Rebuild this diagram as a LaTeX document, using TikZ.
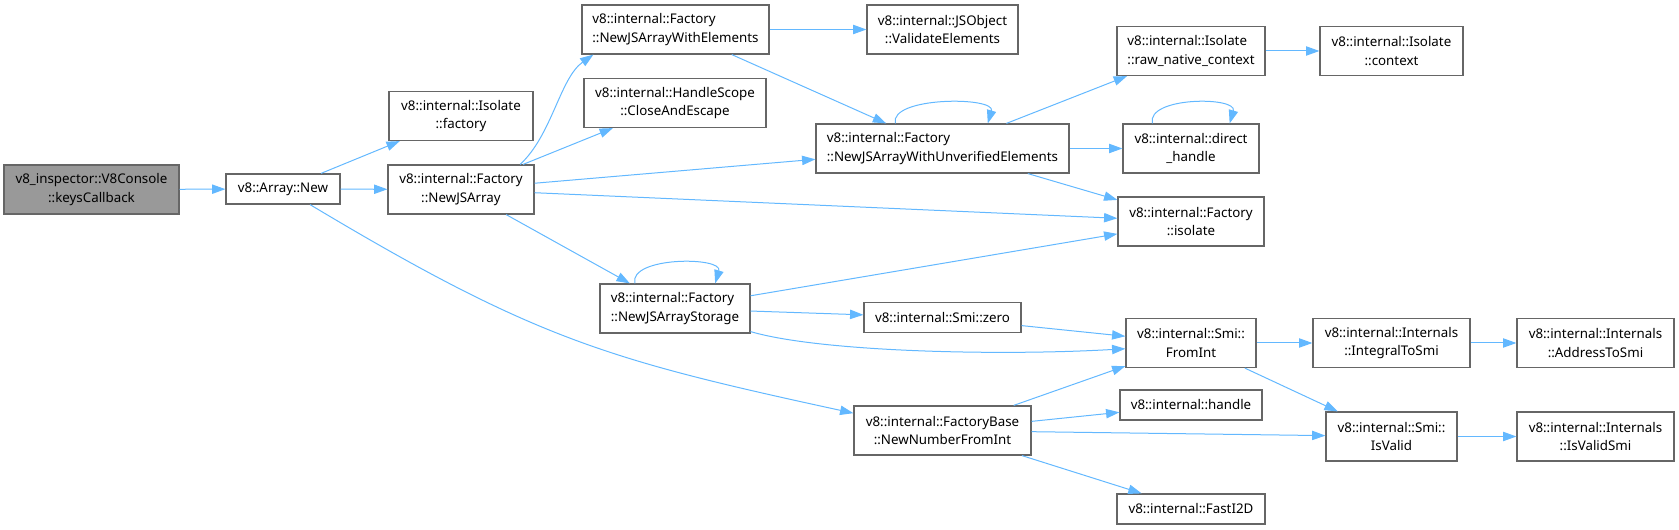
\documentclass[tikz,border=0pt]{standalone}
\usepackage{fontspec}
\setmainfont{Noto Sans}
\usetikzlibrary{arrows.meta}

\definecolor{edgeblue}{HTML}{63B8FF}
\tikzset{
  fn/.style={draw=black!60, line width=0.9pt, fill=white, inner sep=0pt, align=center,
    minimum height=36.75pt, font=\fontsize{10}{13.75}\selectfont},
  fnone/.style={fn, minimum height=22.5pt},
  edge/.style={draw=edgeblue, line width=0.75pt, -{Triangle[length=10pt, width=7pt]}},
}

\begin{document}
\begin{tikzpicture}[x=0.75pt,y=-0.75pt]
\useasboundingbox (0,0) rectangle (1679,530);
% call graph nodes
\node[fn, fill=black!40, minimum width=131.25pt] (kcb) at (91.5,189.5) {v8\_inspector::V8Console\\::keysCallback};
\node[fnone, minimum width=85.5pt] (anew) at (283,189) {v8::Array::New};
\node[fn, minimum width=109.5pt] (njs) at (461,189.5) {v8::internal::Factory\\::NewJSArray};
\node[fn, minimum width=108pt] (nfac) at (461,116) {v8::internal::Isolate\\::factory};
\node[fn, align=left, minimum width=140.25pt] (nwe) at (675.5,29.5) {v8::internal::Factory\\::NewJSArrayWithElements};
\node[fn, minimum width=136.5pt] (ncae) at (675,103) {v8::internal::HandleScope\\::CloseAndEscape};
\node[fn, align=left, minimum width=112.5pt] (nst) at (675,308.5) {v8::internal::Factory\\::NewJSArrayStorage};
\node[fn, minimum width=113.25pt] (nval) at (942.5,29.5) {v8::internal::JSObject\\::ValidateElements};
\node[fn, align=left, minimum width=189.75pt] (nuv) at (942.5,148.5) {v8::internal::Factory\\::NewJSArrayWithUnverifiedElements};
\node[fnone, minimum width=117.75pt] (nzero) at (942.5,317.5) {v8::internal::Smi::zero};
\node[fn, minimum width=132.75pt] (nnum) at (942.5,430.5) {v8::internal::FactoryBase\\::NewNumberFromInt};
\node[fn, align=left, minimum width=111pt] (nrnc) at (1191,51) {v8::internal::Isolate\\::raw\_native\_context};
\node[fn, minimum width=102pt] (ndh) at (1191,148.5) {v8::internal::direct\\\_handle};
\node[fn, minimum width=109.5pt] (niso) at (1191,221.5) {v8::internal::Factory\\::isolate};
\node[fn, minimum width=97.5pt] (nfi) at (1191,343) {v8::internal::Smi::\\FromInt};
\node[fnone, minimum width=106.5pt] (nhdl) at (1191,405) {v8::internal::handle};
\node[fnone, minimum width=111pt] (nfast) at (1191,509) {v8::internal::FastI2D};
\node[fn, minimum width=107.25pt] (nctx) at (1391.5,51) {v8::internal::Isolate\\::context};
\node[fn, minimum width=117.75pt] (nits) at (1391.5,343) {v8::internal::Internals\\::IntegralToSmi};
\node[fn, minimum width=98.25pt] (niv) at (1391.5,436.5) {v8::internal::Smi::\\IsValid};
\node[fn, minimum width=117.75pt] (nats) at (1595.5,343) {v8::internal::Internals\\::AddressToSmi};
\node[fn, minimum width=117.75pt] (nivs) at (1595.5,436.5) {v8::internal::Internals\\::IsValidSmi};

% calls
\draw[edge] (kcb) -- (anew);
\draw[edge] (anew) -- (nfac);
\draw[edge] (anew) -- (njs);
\draw[edge] (anew.-30) .. controls (536,340) and (609,360) .. (nnum.169);
\draw[edge] (njs.23) .. controls (552,135) and (560,78) .. (nwe.197);
\draw[edge] (njs) -- (ncae);
\draw[edge] (njs) -- (nuv);
\draw[edge] (njs) -- (niso);
\draw[edge] (njs) -- (nst);
\draw[edge] (nwe) -- (nval);
\draw[edge] (nwe) -- (nuv);
\draw[edge] (nuv.152) .. controls +(-6,-27) and +(8,-27) .. (nuv.29);
\draw[edge] (nuv) -- (nrnc);
\draw[edge] (nuv) -- (ndh);
\draw[edge] (nuv) -- (niso);
\draw[edge] (nrnc) -- (nctx);
\draw[edge] (ndh.147) .. controls +(-6,-27) and +(8,-27) .. (ndh.33);
\draw[edge] (nst.148) .. controls +(-6,-27) and +(8,-27) .. (nst.32);
\draw[edge] (nst) -- (niso);
\draw[edge] (nst) -- (nzero);
\draw[edge] (nst.-17) .. controls (820,352) and (1000,356) .. (nfi.185);
\draw[edge] (nzero) -- (nfi);
\draw[edge] (nnum) -- (nfi);
\draw[edge] (nnum) -- (nhdl);
\draw[edge] (nnum) -- (niv);
\draw[edge] (nnum) -- (nfast);
\draw[edge] (nfi) -- (nits);
\draw[edge] (nfi) -- (niv);
\draw[edge] (nits) -- (nats);
\draw[edge] (niv) -- (nivs);
\end{tikzpicture}
\end{document}
